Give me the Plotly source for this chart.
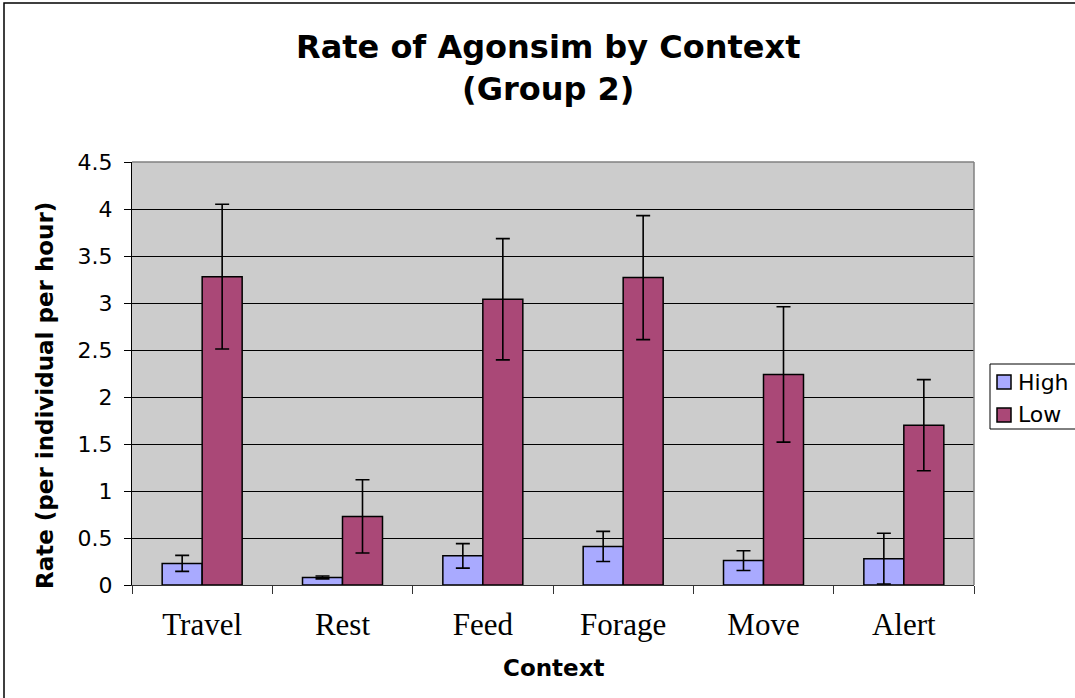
import plotly.graph_objects as go

categories = ["Travel", "Rest", "Feed", "Forage", "Move", "Alert"]
high_vals = [0.23, 0.08, 0.31, 0.41, 0.26, 0.28]
high_err = [0.085, 0.015, 0.13, 0.16, 0.105, 0.27]
low_vals = [3.28, 0.73, 3.04, 3.27, 2.24, 1.70]
low_err = [0.77, 0.39, 0.645, 0.66, 0.72, 0.485]
y_ticks = [0, 0.5, 1, 1.5, 2, 2.5, 3, 3.5, 4, 4.5]
y_tick_text = ["0", "0.5", "1", "1.5", "2", "2.5", "3", "3.5", "4", "4.5"]
series_names = ["High", "Low"]
series_colors = ["#A9AAFF", "#AA4877"]

W, H = 1075, 698
L, R, T, B = 132, 974, 162, 585  # plot area in page pixels
PW, PH = R - L, B - T

def px(x):
    return (x - L) / PW

def py(y):
    return (B - y) / PH

fig = go.Figure()
for name, vals, errs, col in [("High", high_vals, high_err, series_colors[0]),
                              ("Low", low_vals, low_err, series_colors[1])]:
    fig.add_trace(go.Bar(
        name=name, x=categories, y=vals,
        marker=dict(color=col, line=dict(color="black", width=1.5)),
        error_y=dict(type="data", array=errs, color="black", thickness=1.6, width=7),
    ))

fig.update_layout(
    width=W, height=H,
    margin=dict(l=L, r=W - R, t=T, b=H - B, autoexpand=False),
    paper_bgcolor="white",
    plot_bgcolor="#CCCCCC",
    barmode="group", bargap=0.43, bargroupgap=0,
    showlegend=False,
    xaxis=dict(
        showgrid=False, showline=True, linecolor="#333333", linewidth=1,
        ticks="outside", tickson="boundaries", ticklen=8, tickcolor="#333333",
        tickfont=dict(family="Liberation Serif", size=31, color="black"),
        ticklabelstandoff=12,
    ),
    yaxis=dict(
        range=[0, 4.5], tickvals=y_ticks, ticktext=y_tick_text,
        showgrid=True, gridcolor="black", gridwidth=1,
        zeroline=False,
        showline=True, linecolor="black", linewidth=1,
        ticks="outside", ticklen=7, tickcolor="black",
        tickfont=dict(family="DejaVu Sans", size=22, color="black"),
        ticklabelstandoff=7,
    ),
    font=dict(family="DejaVu Sans", color="black"),
)

# outer chart frame and plot-area top/right border
fig.add_shape(type="rect", xref="paper", yref="paper",
              x0=px(4), x1=px(1090), y0=py(720), y1=py(3),
              line=dict(color="black", width=1.5), layer="below")
fig.add_shape(type="line", xref="paper", yref="paper",
              x0=0, x1=1, y0=1, y1=1, line=dict(color="#808080", width=1.5))
fig.add_shape(type="line", xref="paper", yref="paper",
              x0=1, x1=1, y0=0, y1=1, line=dict(color="#808080", width=1.5))

# legend (drawn by hand to match the original's compact layout)
fig.add_shape(type="rect", xref="paper", yref="paper",
              x0=px(990), x1=px(1090), y0=py(429), y1=py(364),
              line=dict(color="black", width=1), fillcolor="white")
leg_rows = [(375, 389, 382), (408, 422, 414)]
for (y0, y1, yc), name, col in zip(leg_rows, series_names, series_colors):
    fig.add_shape(type="rect", xref="paper", yref="paper",
                  x0=px(997), x1=px(1011), y0=py(y1), y1=py(y0),
                  line=dict(color="black", width=1.5), fillcolor=col)
    fig.add_annotation(text=name, xref="paper", yref="paper", x=px(1016), y=py(yc),
                       xanchor="left", yanchor="middle", showarrow=False,
                       font=dict(family="DejaVu Sans", size=22, color="black"))

fig.add_annotation(text="<b>Rate of Agonsim by Context<br>(Group 2)</b>",
                   xref="paper", yref="paper", x=px(548), y=py(68),
                   xanchor="center", yanchor="middle", showarrow=False,
                   font=dict(family="DejaVu Sans", size=32, color="black"))
fig.add_annotation(text="<b>Rate (per individual per hour)</b>",
                   xref="paper", yref="paper", x=px(45), y=py(396),
                   xanchor="center", yanchor="middle", showarrow=False, textangle=-90,
                   font=dict(family="DejaVu Sans", size=23, color="black"))
fig.add_annotation(text="<b>Context</b>",
                   xref="paper", yref="paper", x=px(553), y=py(668),
                   xanchor="center", yanchor="middle", showarrow=False,
                   font=dict(family="DejaVu Sans", size=23, color="black"))

fig.write_html("out.html",
               config={"displayModeBar": False},
               post_script="document.body.style.margin='0';document.body.style.overflow='hidden';")
